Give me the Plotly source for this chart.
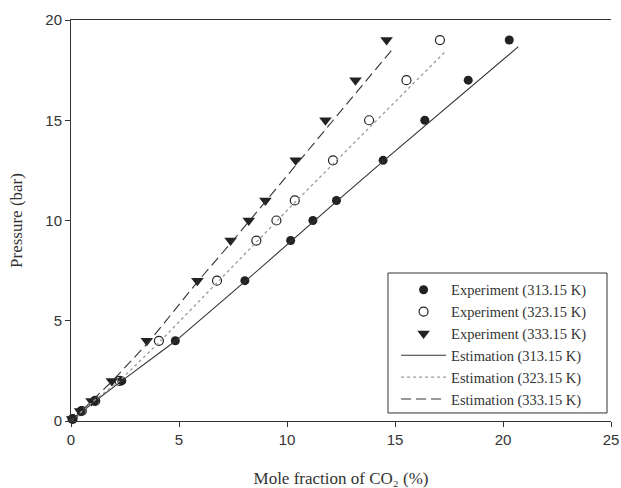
import plotly.graph_objects as go

# Experimental data
pressure_exp = [0.1, 0.5, 1, 2, 4, 7, 9, 10, 11, 13, 15, 17, 19]
x_exp_313 = [0.08, 0.47, 1.09, 2.35, 4.83, 8.05, 10.17, 11.2, 12.29, 14.45, 16.38, 18.39, 20.29]
x_exp_323 = [0.07, 0.5, 1.12, 2.25, 4.07, 6.76, 8.58, 9.51, 10.36, 12.13, 13.8, 15.53, 17.08]
x_exp_333 = [0.05, 0.42, 0.95, 1.89, 3.51, 5.85, 7.39, 8.23, 9.0, 10.4, 11.78, 13.17, 14.61]

# Estimation curves
x_est_313 = [0, 1.0, 2.35, 4.85, 8.1, 10.2, 12.35, 14.5, 16.7, 18.9, 20.71]
p_est_313 = [0, 0.9, 2, 4, 7, 9, 11, 13, 15, 17, 18.67]
x_est_323 = [0, 1.05, 2.25, 4.15, 6.85, 8.65, 10.45, 12.3, 14.15, 16.0, 17.35]
p_est_323 = [0, 1, 2, 4, 7, 9, 11, 13, 15, 17, 18.45]
x_est_333 = [0, 0.95, 1.92, 3.65, 5.9, 7.5, 9.05, 10.6, 12.15, 13.7, 14.94]
p_est_333 = [0, 1, 2, 4, 7, 9, 11, 13, 15, 17, 18.62]

x_ticks = [0, 5, 10, 15, 20, 25]
y_ticks = [0, 5, 10, 15, 20]

ink = "#222222"
fig = go.Figure()

fig.add_trace(go.Scatter(x=x_exp_313, y=pressure_exp, mode="markers", name="Experiment (313.15 K)",
                         marker=dict(symbol="circle", size=9, color=ink, line=dict(width=0)),
                         cliponaxis=False))
fig.add_trace(go.Scatter(x=x_exp_323, y=pressure_exp, mode="markers", name="Experiment (323.15 K)",
                         marker=dict(symbol="circle-open", size=9, color=ink, line=dict(width=1.2, color=ink)),
                         cliponaxis=False))
fig.add_trace(go.Scatter(x=x_exp_333, y=pressure_exp, mode="markers", name="Experiment (333.15 K)",
                         marker=dict(symbol="triangle-down", size=11, color=ink, line=dict(width=0)),
                         cliponaxis=False))
fig.add_trace(go.Scatter(x=x_est_313, y=p_est_313, mode="lines", name="Estimation (313.15 K)",
                         line=dict(color="#333333", width=1.1, dash="solid")))
fig.add_trace(go.Scatter(x=x_est_323, y=p_est_323, mode="lines", name="Estimation (323.15 K)",
                         line=dict(color="#9a9a9a", width=1.3, dash="dot")))
fig.add_trace(go.Scatter(x=x_est_333, y=p_est_333, mode="lines", name="Estimation (333.15 K)",
                         line=dict(color="#333333", width=1.1, dash="10px,5px")))

axis_common = dict(showgrid=False, zeroline=False, showline=True, linecolor="#333333", linewidth=1,
                   ticks="outside", ticklen=5, tickwidth=1, tickcolor="#333333", automargin=False,
                   tickfont=dict(family="Liberation Sans, Arial", size=15, color="#333333"))

fig.update_layout(
    width=621, height=488,
    margin=dict(l=71, r=10, t=20, b=67),
    paper_bgcolor="white", plot_bgcolor="white",
    xaxis=dict(range=[0, 25], tickvals=x_ticks, mirror=True,
               title=dict(text="Mole fraction of CO₂ (%)", standoff=26,
                          font=dict(family="Liberation Serif, Times New Roman", size=17, color="#333333")),
               **axis_common),
    yaxis=dict(range=[0, 20], tickvals=y_ticks,
               title=dict(text="Pressure (bar)", standoff=18,
                          font=dict(family="Liberation Serif, Times New Roman", size=17, color="#333333")),
               **axis_common),
    legend=dict(x=0.602, y=0.367, xanchor="left", yanchor="top",
                bgcolor="rgba(0,0,0,0)", borderwidth=0,
                font=dict(family="Liberation Serif, Times New Roman", size=14.5, color="#333333"),
                itemwidth=45),
    shapes=[dict(type="rect", xref="paper", yref="paper", x0=0.587, x1=0.9926, y0=0.020, y1=0.369,
                 line=dict(color="#333333", width=1), fillcolor="white", layer="below")],
    showlegend=True,
)

fig.write_html("out.html")
